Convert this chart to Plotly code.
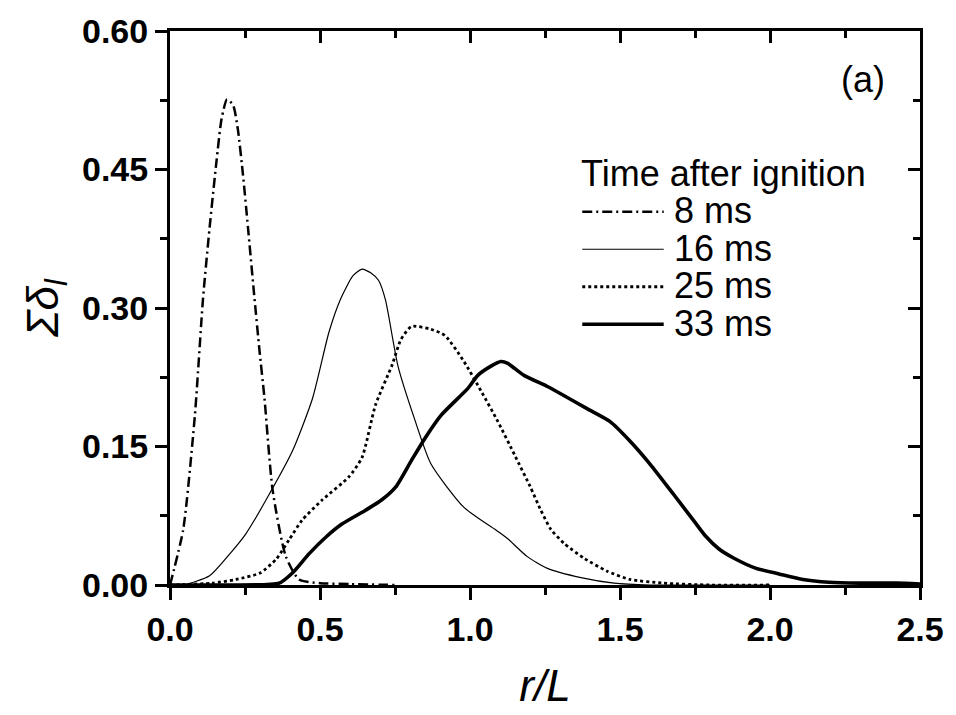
import plotly.graph_objects as go

# r/L and sum(delta_l) values
x_8 = [0.0, 0.044, 0.083, 0.11, 0.132, 0.155, 0.172, 0.19, 0.21, 0.226, 0.243, 0.26, 0.28,
       0.298, 0.315, 0.342, 0.386, 0.43, 0.5, 0.6, 0.75]
y_8 = [0.0, 0.06, 0.184, 0.31, 0.387, 0.459, 0.505, 0.526, 0.52, 0.494, 0.445, 0.387, 0.316,
       0.255, 0.202, 0.103, 0.031, 0.006, 0.002, 0.001, 0.0]

x_16 = [0.0, 0.044, 0.132, 0.2, 0.254, 0.32, 0.408, 0.475, 0.53, 0.569, 0.61, 0.64, 0.67, 0.695,
        0.718, 0.76, 0.817, 0.87, 0.98, 1.093, 1.126, 1.19, 1.258, 1.37, 1.48, 1.6, 1.8, 2.0]
y_16 = [0.0, 0.0, 0.01, 0.034, 0.056, 0.092, 0.145, 0.202, 0.274, 0.31, 0.335, 0.342, 0.338, 0.33,
        0.309, 0.237, 0.178, 0.131, 0.084, 0.058, 0.05, 0.031, 0.018, 0.008, 0.002, 0.0, 0.0, 0.0]

x_25 = [0.0, 0.14, 0.22, 0.3, 0.354, 0.397, 0.44, 0.507, 0.596, 0.64, 0.685, 0.74, 0.77, 0.805,
        0.87, 0.917, 0.98, 1.037, 1.093, 1.15, 1.2, 1.236, 1.27, 1.314, 1.38, 1.457, 1.533,
        1.645, 1.8, 2.0]
y_25 = [0.0, 0.002, 0.006, 0.013, 0.028, 0.049, 0.07, 0.092, 0.117, 0.138, 0.195, 0.238, 0.266,
        0.28, 0.277, 0.27, 0.242, 0.21, 0.177, 0.14, 0.107, 0.081, 0.06, 0.045, 0.029, 0.015,
        0.006, 0.002, 0.0, 0.0]

x_33 = [0.0, 0.2, 0.364, 0.408, 0.464, 0.52, 0.573, 0.652, 0.705, 0.752, 0.805, 0.85, 0.904,
        0.993, 1.026, 1.07, 1.103, 1.126, 1.18, 1.258, 1.314, 1.39, 1.467, 1.533, 1.6, 1.679,
        1.745, 1.785, 1.83, 1.88, 1.954, 2.03, 2.11, 2.196, 2.3, 2.42, 2.5]
y_33 = [0.0, 0.0, 0.002, 0.013, 0.034, 0.052, 0.066, 0.081, 0.092, 0.106, 0.135, 0.159, 0.184,
        0.213, 0.227, 0.237, 0.242, 0.24, 0.227, 0.215, 0.205, 0.191, 0.177, 0.156, 0.131,
        0.098, 0.07, 0.053, 0.039, 0.029, 0.018, 0.012, 0.006, 0.003, 0.002, 0.002, 0.001]

names = ["8 ms", "16 ms", "25 ms", "33 ms"]
xs = [x_8, x_16, x_25, x_33]
ys = [y_8, y_16, y_25, y_33]
dashes = ["10px,4px,2px,4px", "solid", "dot", "solid"]
widths = [2.5, 1.2, 2.8, 3.6]

x_ticks = [0.0, 0.5, 1.0, 1.5, 2.0, 2.5]
x_labels = ["0.0", "0.5", "1.0", "1.5", "2.0", "2.5"]
y_ticks = [0.0, 0.15, 0.30, 0.45, 0.60]
y_labels = ["0.00", "0.15", "0.30", "0.45", "0.60"]
legend_title = "Time after ignition"

FONT = "Liberation Sans, Arial, sans-serif"
W, H = 956, 715
ML, MR, MT, MB = 170, 31, 28, 126
PW, PH = W - ML - MR, H - MT - MB


def px_x(p):
    return (p - ML) / PW


def px_y(p):
    return (H - MB - p) / PH


fig = go.Figure()
for x, y, n, d, w in zip(xs, ys, names, dashes, widths):
    fig.add_trace(go.Scatter(x=x, y=y, name=n, mode="lines", showlegend=False,
                             line=dict(color="black", width=w, dash=d, shape="spline",
                                       smoothing=0.6)))

# overlay axes used only for inward mirrored ticks on top / right
fig.add_trace(go.Scatter(x=[0], y=[0], xaxis="x2", yaxis="y2", showlegend=False,
                         mode="markers", marker=dict(opacity=0), hoverinfo="skip"))

common_axis = dict(showline=True, linecolor="black", linewidth=3, showgrid=False,
                   zeroline=False, tickcolor="black", tickwidth=3)

# custom legend (long line samples, tight rows as in the reference)
annotations = [dict(text=legend_title, x=px_x(582), y=px_y(172), xref="paper", yref="paper",
                    xanchor="left", yanchor="middle", showarrow=False,
                    font=dict(size=36, family=FONT))]
shapes = []
row0, step = 210, 38
for i, (n, d, w) in enumerate(zip(names, dashes, widths)):
    yc = row0 + i * step
    shapes.append(dict(type="line", xref="paper", yref="paper",
                       x0=px_x(585), x1=px_x(667), y0=px_y(yc + 1), y1=px_y(yc + 1),
                       line=dict(color="black", width=w, dash=d)))
    annotations.append(dict(text=n, x=px_x(675), y=px_y(yc), xref="paper", yref="paper",
                            xanchor="left", yanchor="middle", showarrow=False,
                            font=dict(size=36, family=FONT)))
annotations.append(dict(text="(a)", x=px_x(892), y=px_y(77), xref="paper", yref="paper",
                        xanchor="right", yanchor="middle", showarrow=False,
                        font=dict(size=36, family=FONT)))

fig.update_layout(
    width=W, height=H,
    margin=dict(l=ML, r=MR, t=MT, b=MB),
    paper_bgcolor="white", plot_bgcolor="white",
    font=dict(family=FONT, color="black"),
    showlegend=False,
    xaxis=dict(**common_axis, range=[0, 2.5], tickvals=x_ticks, ticktext=x_labels,
               ticks="outside", ticklen=12,
               minor=dict(dtick=0.25, ticks="outside", ticklen=7, tickwidth=3, tickcolor="black"),
               tickfont=dict(size=34, family=FONT, weight="bold"),
               title=dict(text="<i>r/L</i>", font=dict(size=44, family=FONT), standoff=24)),
    yaxis=dict(**common_axis, range=[0, 0.6], tickvals=y_ticks, ticktext=y_labels,
               ticks="outside", ticklen=12,
               minor=dict(dtick=0.075, ticks="outside", ticklen=7, tickwidth=3, tickcolor="black"),
               tickfont=dict(size=34, family=FONT, weight="bold"),
               title=dict(text="<i>Σδ<sub>l</sub></i>", font=dict(size=44, family=FONT), standoff=10)),
    xaxis2=dict(**common_axis, overlaying="x", side="top", range=[0, 2.5], tickvals=x_ticks,
                showticklabels=False, ticks="inside", ticklen=12,
                minor=dict(dtick=0.25, ticks="inside", ticklen=7, tickwidth=3, tickcolor="black")),
    yaxis2=dict(**common_axis, overlaying="y", side="right", range=[0, 0.6], tickvals=y_ticks,
                showticklabels=False, ticks="inside", ticklen=12,
                minor=dict(dtick=0.075, ticks="inside", ticklen=7, tickwidth=3, tickcolor="black")),
    annotations=annotations,
    shapes=shapes,
)

fig.write_html("out.html")
